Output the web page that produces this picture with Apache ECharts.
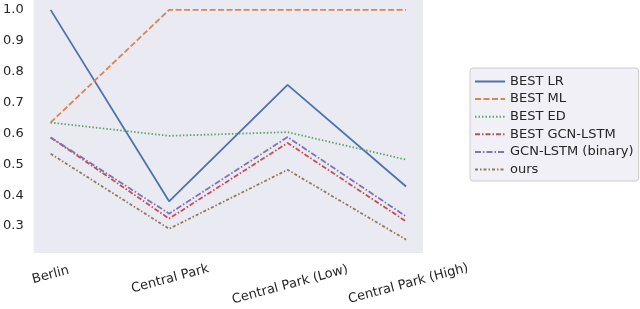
<!DOCTYPE html>
<html><head><meta charset="utf-8">
<script src="https://cdn.jsdelivr.net/npm/echarts@6/dist/echarts.min.js"></script>
<style>html,body{margin:0;padding:0;background:#fff}#c{width:640px;height:309px}</style>
</head><body><div id="c"></div>
<script>
const categories = ["Berlin", "Central Park", "Central Park (Low)", "Central Park (High)"];
const seriesNames = ["BEST LR", "BEST ML", "BEST ED", "BEST GCN-LSTM", "GCN-LSTM (binary)", "ours"];
const bestLR = [1.0, 0.38, 0.757, 0.428];
const bestML = [0.635, 1.0, 1.0, 1.0];
const bestED = [0.635, 0.592, 0.604, 0.515];
const bestGCN = [0.587, 0.324, 0.569, 0.315];
const gcnBinary = [0.587, 0.34, 0.588, 0.331];
const ours = [0.534, 0.291, 0.482, 0.256];
const yTicks = [0.3, 0.4, 0.5, 0.6, 0.7, 0.8, 0.9, 1.0];

const colors = ["#4C72B0", "#DD8452", "#55A868", "#C44E52", "#8172B3", "#937860"];
const dashes = ["solid", [6, 2.5], [1.5, 2], [5, 2, 1.5, 2], [6, 2, 1.5, 2], [3, 2, 1.5, 2]];
const allData = [bestLR, bestML, bestED, bestGCN, gcnBinary, ours];
// matplotlib-like label drop: longer rotated labels sit lower
const labelPad = [0, 8, 20, 18];

const rich = {};
labelPad.forEach((p, i) => {
  rich['l' + i] = {fontSize: 13, color: '#262626', fontFamily: 'DejaVu Sans', padding: [p, 0, 0, 0]};
});

const chart = echarts.init(document.getElementById('c'), null, {renderer: 'canvas'});
chart.setOption({
  animation: false,
  grid: {left: 32, top: 0, right: 217, bottom: 56, show: true, backgroundColor: '#EAEAF2', borderWidth: 0},
  xAxis: {
    type: 'value', min: -0.143, max: 3.143,
    splitLine: {show: false}, axisLine: {show: false}, axisTick: {show: false},
    axisLabel: {
      rotate: 15, margin: 22, fontSize: 13, color: '#262626', fontFamily: 'DejaVu Sans',
      align: 'center', verticalAlign: 'middle',
      customValues: [0, 1, 2, 3],
      formatter: v => { const i = Math.round(v); return categories[i] ? '{l' + i + '|' + categories[i] + '}' : ''; },
      rich: rich
    }
  },
  yAxis: {
    type: 'value', min: 0.2126, max: 1.032,
    splitLine: {show: false}, axisLine: {show: false}, axisTick: {show: false},
    axisLabel: {
      customValues: yTicks, margin: 10, fontSize: 13, color: '#262626', fontFamily: 'DejaVu Sans',
      formatter: v => v.toFixed(1)
    }
  },
  legend: {
    orient: 'vertical', left: 470, top: 68,
    backgroundColor: '#F0F0F6', borderColor: '#cccccc', borderWidth: 1, borderRadius: 3,
    padding: [7, 5, 5, 4], itemGap: 4.6, itemWidth: 30, itemHeight: 14,
    itemStyle: {opacity: 0},
    textStyle: {fontSize: 13, color: '#262626', fontFamily: 'DejaVu Sans'},
    data: seriesNames
  },
  series: seriesNames.map((n, i) => ({
    name: n, type: 'line', symbol: 'none',
    data: allData[i].map((v, j) => [j, v]),
    lineStyle: {color: colors[i], width: 1.8, type: dashes[i]},
    itemStyle: {color: colors[i]}
  }))
});
</script></body></html>
